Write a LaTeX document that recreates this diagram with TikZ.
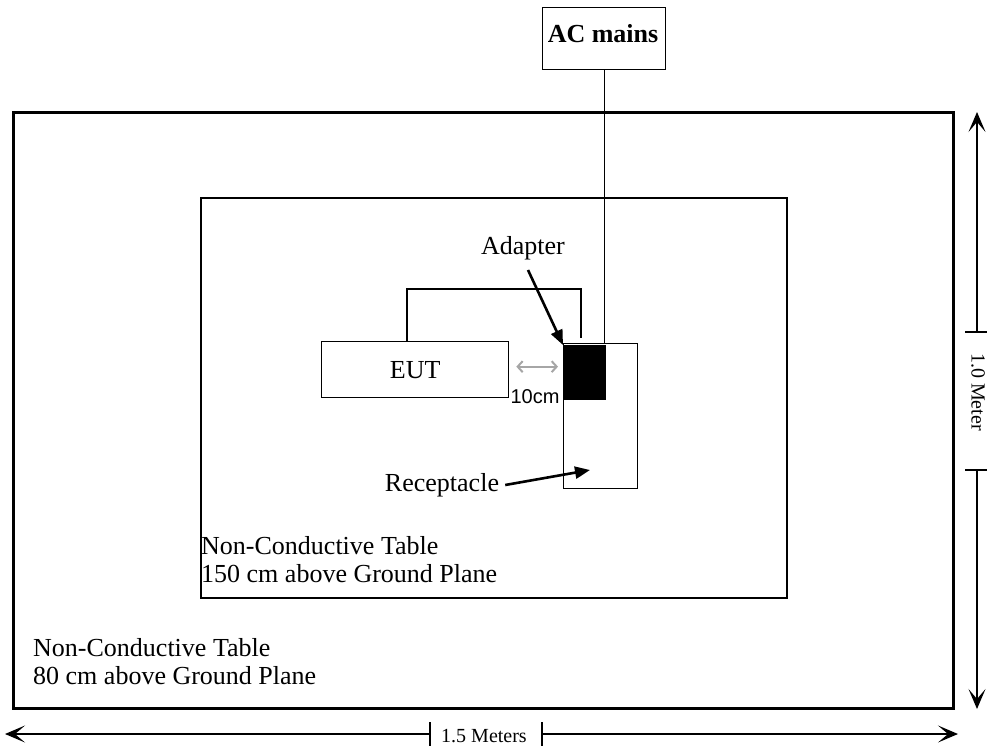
\documentclass[tikz,border=0pt]{standalone}
\usepackage{fontspec}
\setmainfont{Liberation Serif}
\newfontfamily\arialfont{Liberation Sans}
\usetikzlibrary{arrows.meta}
\usetikzlibrary{positioning}
\tikzset{
  box/.style={draw, line width=1.3pt, inner sep=0pt},
  lbl/.style={font=\fontsize{26}{28}\selectfont, inner sep=0pt},
  pointer/.style={line width=2.6pt, -{Triangle[length=15pt,width=12pt]}},
  dimarrow/.style={line width=1.4pt, -{Stealth[length=20pt,width=17pt,inset=10pt]}},
  gaparrow/.style={line width=2pt, gray!70, {Straight Barb[length=5pt,width=11pt]}-{Straight Barb[length=5pt,width=11pt]}},
}
\begin{document}
\begin{tikzpicture}[x=1pt,y=-1pt]
    \useasboundingbox (0,0) rectangle (987,754);
    \node[box, line width=3pt, minimum width=940pt, minimum height=596pt, anchor=north west] (outer) at (12,111) {};
    \node[box, line width=1.5pt, minimum width=586pt, minimum height=400pt, anchor=north west] (inner) at (200,197) {};
    \node[box, minimum width=123pt, minimum height=62pt, anchor=north west] (mains) at (542,7) {};
    \node[lbl, font=\bfseries\fontsize{26}{28}\selectfont] (mainstxt) at (603,34) {AC mains};
    \node[box, lbl, draw, minimum width=187pt, minimum height=56pt, anchor=north west] (eut) at (321,341) {EUT};
    \node[box, minimum width=74pt, minimum height=145pt, anchor=north west] (recep) at (563,343) {};
    \node[fill=black, minimum width=43pt, minimum height=55pt, inner sep=0pt, anchor=north west] (adapter) at (563,345) {};

    \node[lbl] (lbladapter) at (523,248) {Adapter};
    \node[lbl] (lblrecep) at (442,485) {Receptacle};
    \node[font=\arialfont\fontsize{20}{24}\selectfont, inner sep=0pt] (gap) at (535,397) {10cm};
    \node[lbl, anchor=west, align=left] (innertxt) at (201,560) {Non-Conductive Table\\150 cm above Ground Plane};
    \node[lbl, anchor=west, align=left] (outertxt) at (33,662) {Non-Conductive Table\\80 cm above Ground Plane};

    % cables
    \coordinate (plug) at (581,338);
    \draw[line width=1.3pt] (mains.south) -- (mains.south |- recep.north);
    \draw[line width=1.3pt] ([xshift=86pt]eut.north west) -- ++(0,-52) -| (plug);

    % pointers
    \coordinate (recepin) at (590,470);
    \draw[pointer] ([xshift=5pt,yshift=-10pt]lbladapter.south) -- (adapter.north west);
    \draw[pointer] ([xshift=6pt]lblrecep.east) -- (recepin);
    \draw[gaparrow] ([xshift=7pt,yshift=3pt]eut.east) -- ([xshift=-5pt,yshift=3pt]eut.east -| adapter.west);

    % dimensions
    \coordinate (hleft) at (5,734);
    \coordinate (hright) at (958,734);
    \coordinate (htickl) at (430,734);
    \coordinate (htickr) at (542,734);
    \node[font=\fontsize{20}{24}\selectfont, inner sep=0pt] (hlen) at (484,736) {1.5 Meters};
    \draw[line width=1.4pt] ([yshift=12pt]htickl) -- ([yshift=-12pt]htickl);
    \draw[line width=1.4pt] ([yshift=12pt]htickr) -- ([yshift=-12pt]htickr);
    \draw[dimarrow] (htickl) -- (hleft);
    \draw[dimarrow] (htickr) -- (hright);

    \coordinate (vtop) at (977,112);
    \coordinate (vbot) at (977,709);
    \coordinate (vtickt) at (977,332);
    \coordinate (vtickb) at (977,470);
    \node[font=\fontsize{20}{24}\selectfont, inner sep=0pt, rotate=-90] (vlen) at (978,392) {1.0 Meter};
    \draw[line width=1.4pt] ([xshift=-12pt]vtickt) -- ([xshift=10pt]vtickt);
    \draw[line width=1.4pt] ([xshift=-12pt]vtickb) -- ([xshift=10pt]vtickb);
    \draw[dimarrow] (vtickt) -- (vtop);
    \draw[dimarrow] (vtickb) -- (vbot);
\end{tikzpicture}
\end{document}
